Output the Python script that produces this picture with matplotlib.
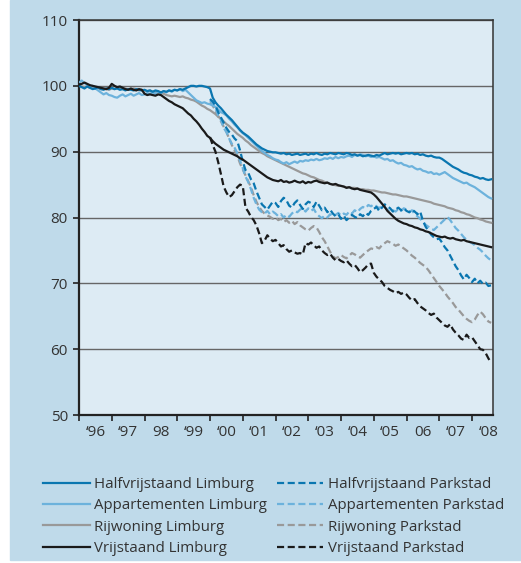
import numpy as np
import matplotlib
matplotlib.use("Agg")
import matplotlib.pyplot as plt
from matplotlib.patches import Rectangle

plt.rcParams['font.family'] = ['Open Sans', 'DejaVu Sans']

# ── data: monthly index (Jan 1996 = 100) ─────────────────────────────────────
START_LIMBURG = 1996.0      # Jan 1996 .. Aug 2008
START_PARKSTAD = 2000.0     # Jan 2000 .. Aug 2008

halfvrijstaand_limburg = [
    100.0, 99.8, 99.6, 99.9, 99.7, 99.5, 99.6, 99.8, 99.5, 99.4, 99.6, 99.5,
    99.7, 99.5, 99.6, 99.4, 99.5, 99.3, 99.5, 99.4, 99.3, 99.5, 99.4, 99.3,
    99.4, 99.2, 99.3, 99.1, 99.3, 99.2, 99.0, 99.2, 99.1, 99.3, 99.2, 99.4,
    99.3, 99.5, 99.4, 99.6, 99.8, 100.0, 100.0, 99.9, 100.0, 100.0, 99.9, 99.8,
    99.6, 98.2, 97.5, 97.0, 96.6, 96.1, 95.6, 95.2, 94.8, 94.3, 93.8, 93.3,
    92.9, 92.6, 92.3, 91.9, 91.5, 91.1, 90.8, 90.5, 90.3, 90.1, 90.0, 89.9,
    89.9, 89.8, 89.7, 89.8, 89.6, 89.7, 89.5, 89.6, 89.7, 89.5, 89.6, 89.7,
    89.5, 89.7, 89.6, 89.8, 89.6, 89.5, 89.7, 89.6, 89.8, 89.7, 89.6, 89.8,
    89.7, 89.6, 89.8, 89.7, 89.5, 89.6, 89.4, 89.5, 89.3, 89.4, 89.5, 89.4,
    89.3, 89.5, 89.4, 89.6, 89.8, 89.6, 89.7, 89.8, 89.7, 89.8, 89.6, 89.7,
    89.8, 89.7, 89.8, 89.6, 89.7, 89.5, 89.6, 89.4, 89.3, 89.4, 89.2, 89.1,
    89.1, 88.9, 88.6, 88.3, 88.0, 87.7, 87.5, 87.3, 87.0, 86.8, 86.7, 86.5,
    86.4, 86.2, 86.1, 85.9, 86.0, 85.8, 85.7, 85.8,
]
appartementen_limburg = [
    100.5, 100.8, 100.4, 100.2, 99.8, 100.0, 99.6, 99.3, 99.0, 98.7, 98.9, 98.6,
    98.5, 98.3, 98.2, 98.5, 98.7, 98.4, 98.6, 98.8, 98.5, 98.7, 98.9, 98.6,
    98.7, 98.9, 98.8, 99.0, 98.8, 99.1, 98.9, 99.2, 99.0, 99.3, 99.1, 99.4,
    99.3, 99.5, 99.2, 99.4, 99.0, 98.6, 98.2, 97.8, 97.6, 97.4, 97.5, 97.3,
    97.2, 97.0, 96.8, 96.4, 96.0, 95.8, 95.5, 95.0, 94.6, 94.1, 93.7, 93.2,
    92.8, 92.5, 92.1, 91.7, 91.3, 90.9, 90.5, 90.1, 89.8, 89.5, 89.3, 89.0,
    88.8, 88.7, 88.4, 88.2, 88.4, 88.1, 88.3, 88.5, 88.3, 88.6, 88.5, 88.7,
    88.6, 88.8, 88.7, 88.9, 88.7, 88.8, 89.0, 88.9, 89.1, 88.9, 89.2, 89.0,
    89.2, 89.1, 89.3, 89.4, 89.2, 89.5, 89.4, 89.6, 89.5, 89.3, 89.4, 89.2,
    89.3, 89.1, 89.2, 89.0, 88.8, 88.9, 88.6, 88.7, 88.4, 88.2, 88.3, 88.0,
    87.9, 87.7, 87.8, 87.5, 87.3, 87.4, 87.1, 87.0, 86.8, 86.9, 86.6, 86.7,
    86.5, 86.7, 86.9, 86.6, 86.3, 86.0, 85.8, 85.6, 85.4, 85.2, 85.3, 85.0,
    84.8, 84.6, 84.3, 84.0, 83.7, 83.4, 83.1, 82.9,
]
rijwoning_limburg = [
    100.0, 99.9, 99.8, 99.9, 99.7, 99.8, 99.6, 99.7, 99.5, 99.6, 99.5, 99.4,
    99.6, 99.5, 99.7, 99.6, 99.5, 99.6, 99.4, 99.5, 99.6, 99.5, 99.3, 99.4,
    99.3, 99.2, 99.3, 99.1, 99.0, 99.1, 98.9, 98.8, 98.6, 98.5, 98.4, 98.5,
    98.4, 98.3, 98.4, 98.2, 98.1, 97.9, 97.8, 97.6, 97.3, 97.0, 96.8, 96.5,
    96.3, 96.0, 95.7, 95.3, 95.0, 94.6, 94.2, 93.9, 93.5, 93.1, 92.7, 92.4,
    92.1, 91.7, 91.4, 91.0, 90.7, 90.4, 90.1, 89.8, 89.6, 89.3, 89.1, 88.9,
    88.7, 88.5, 88.3, 88.1, 87.9, 87.7, 87.5, 87.3, 87.1, 86.9, 86.7, 86.6,
    86.4, 86.2, 86.1, 85.9, 85.7, 85.6, 85.4, 85.3, 85.1, 85.0, 84.9, 84.8,
    84.8, 84.7, 84.6, 84.6, 84.5, 84.5, 84.4, 84.3, 84.3, 84.2, 84.2, 84.1,
    84.1, 84.0, 83.9, 83.8, 83.8, 83.7, 83.6, 83.5, 83.5, 83.4, 83.3, 83.2,
    83.2, 83.1, 83.0, 82.9, 82.8, 82.7, 82.6, 82.5, 82.4, 82.3, 82.1, 82.0,
    81.9, 81.8, 81.7, 81.5, 81.4, 81.3, 81.1, 81.0, 80.8, 80.7, 80.5, 80.4,
    80.2, 80.0, 79.9, 79.7, 79.6, 79.4, 79.3, 79.2,
]
vrijstaand_limburg = [
    100.2, 100.3, 100.5, 100.3, 100.1, 100.0, 99.9, 99.8, 99.7, 99.6, 99.5, 99.7,
    100.3, 100.0, 99.8, 99.9, 99.7, 99.5, 99.4, 99.6, 99.4, 99.3, 99.5, 99.4,
    98.8, 98.6, 98.7, 98.6, 98.5, 98.7, 98.6, 98.3, 98.0, 97.7, 97.5, 97.2,
    97.0, 96.8, 96.6, 96.2, 95.8, 95.5, 95.0, 94.6, 94.1, 93.5, 93.0, 92.4,
    92.1, 91.6, 91.2, 90.9, 90.6, 90.3, 90.1, 89.9, 89.7, 89.5, 89.3, 89.0,
    88.8, 88.5, 88.2, 87.9, 87.6, 87.3, 87.0, 86.7, 86.4, 86.1, 85.9, 85.7,
    85.6, 85.5, 85.7, 85.4, 85.5, 85.3, 85.4, 85.6, 85.4, 85.3, 85.5, 85.2,
    85.4, 85.3, 85.5, 85.6, 85.4, 85.3, 85.2, 85.3, 85.1, 85.0, 85.1, 84.9,
    84.8, 84.7, 84.5, 84.6, 84.4, 84.3, 84.4, 84.2, 84.1, 84.0, 83.9, 83.8,
    83.5, 83.1, 82.6, 82.1, 81.6, 81.0, 80.6, 80.2, 79.8, 79.5, 79.3, 79.1,
    79.0, 78.8, 78.7, 78.5, 78.4, 78.2, 78.1, 77.9, 77.8, 77.6, 77.4, 77.2,
    77.1, 77.0, 77.1, 76.9, 76.8, 76.9, 76.7, 76.6, 76.5, 76.6, 76.4, 76.3,
    76.2, 76.1, 76.0, 75.9, 75.8, 75.7, 75.6, 75.5,
]

halfvrijstaand_parkstad = [
    98.0, 97.6, 97.0, 96.0, 95.2, 94.4, 93.6, 93.0, 92.6, 92.0, 91.6, 90.2,
    88.5, 87.2, 86.8, 85.8, 85.2, 84.0, 83.0, 82.0, 81.6, 81.2, 81.8, 82.4,
    82.2, 81.6, 82.5, 83.0, 82.6, 81.8, 81.5, 82.2, 82.6, 81.9, 81.3, 82.0,
    82.4, 82.2, 81.6, 82.4, 81.8, 81.1, 81.5, 80.8, 81.2, 80.6, 80.2, 80.5,
    79.8, 80.3, 79.6, 80.0, 80.4, 80.1, 79.9, 80.5, 80.2, 80.7, 80.4, 81.0,
    81.3, 81.6, 81.0, 81.5, 82.0, 81.7, 81.4, 80.9, 81.2, 81.5, 81.1, 81.4,
    81.0, 80.8, 81.2, 80.9, 80.5, 80.9, 79.5, 78.6, 78.0, 77.4, 77.0, 76.7,
    76.8, 76.2, 75.5, 75.0, 74.2, 73.4, 72.6, 72.0, 71.2, 70.6, 71.3, 70.8,
    70.2, 70.7, 70.0, 70.4, 69.9, 70.1, 69.6, 69.7,
]
appartementen_parkstad = [
    97.8, 97.3, 96.6, 95.5, 94.8, 93.6, 93.0, 92.0, 91.2, 90.6, 89.8, 88.6,
    87.5, 86.2, 85.4, 84.3, 83.0, 82.0, 81.2, 80.8, 80.6, 81.0, 80.5, 80.9,
    80.6, 80.2, 80.5, 80.0, 80.4, 80.1, 80.6, 81.0, 80.8, 81.2, 81.4, 80.9,
    81.4, 81.0, 81.3, 80.6, 80.2, 79.9, 80.3, 80.0, 80.5, 80.2, 80.4, 80.7,
    80.3, 80.6, 80.4, 80.9, 80.6, 81.1, 80.8, 81.3, 81.6, 81.4, 81.9, 81.7,
    82.0, 81.7, 81.4, 81.8, 81.6, 81.2, 80.8, 81.1, 80.9, 81.3, 81.0, 81.4,
    81.2, 80.8, 81.1, 80.5, 80.2, 79.8, 79.4, 78.9, 78.6, 78.3, 78.1, 78.5,
    78.9, 79.3, 79.7, 80.1, 79.6, 79.0, 78.4, 78.0, 77.5, 77.0, 76.6, 76.3,
    76.1, 75.8, 75.4, 75.1, 74.7, 74.2, 73.8, 73.5,
]
rijwoning_parkstad = [
    97.5, 97.0, 96.2, 95.4, 94.6, 93.8, 93.0, 92.0, 91.0, 90.2, 89.4, 88.2,
    87.3, 86.4, 85.5, 84.6, 83.4, 82.4, 81.6, 81.0, 80.6, 80.3, 80.1, 79.8,
    80.0, 79.6, 79.8, 79.3, 79.6, 79.2, 79.5, 79.0, 79.3, 78.8, 78.5, 78.2,
    78.0, 78.4, 78.7, 78.5, 77.8, 77.0, 76.4, 75.6, 74.8, 74.1, 73.8, 74.0,
    74.3, 74.0, 73.8, 74.2, 74.6, 74.4, 74.1, 73.9, 74.3, 74.7, 75.0, 75.3,
    75.2, 75.5, 75.3, 75.8, 76.1, 76.4, 76.2, 76.0, 75.7, 75.9, 75.6, 75.3,
    75.0, 74.6, 74.2, 73.9, 73.5, 73.1, 72.8, 72.5, 72.0, 71.4, 70.8, 70.2,
    69.6, 69.1, 68.6, 68.0, 67.5, 67.0, 66.4, 66.0, 65.5, 65.0, 64.6, 64.3,
    64.1, 64.5, 65.2, 65.7, 65.3, 64.7, 64.2, 64.0,
]
vrijstaand_parkstad = [
    92.2, 91.0, 90.0, 88.4, 86.6, 84.7, 83.8, 83.1, 83.4, 84.0, 84.6, 85.0,
    84.8, 81.5, 80.9, 80.1, 79.6, 78.8, 77.6, 76.1, 76.5, 77.3, 76.8, 76.4,
    76.6, 76.1, 75.6, 75.8, 75.2, 74.8, 75.0, 74.7, 74.5, 74.6, 74.4, 76.1,
    75.9, 76.2, 75.8, 75.4, 75.6, 75.0, 74.6, 74.3, 74.5, 73.9, 73.5, 73.7,
    73.4, 73.2, 73.5, 73.0, 72.6, 72.8, 72.3, 71.7, 72.0, 72.4, 72.9, 73.0,
    71.6, 71.0, 70.6, 70.2, 69.6, 69.3, 69.0, 68.8, 68.5, 68.7, 68.4, 68.6,
    68.3, 67.8, 67.4, 67.6, 67.0, 66.5, 66.2, 65.9, 65.5, 65.2, 65.4, 64.8,
    64.4, 64.0, 63.6, 63.4, 63.8, 63.0, 62.5, 62.1, 61.6, 61.4, 62.2, 61.7,
    61.8, 61.2, 60.6, 60.0, 59.9, 59.4, 58.6, 57.9,
]

YEAR_LABELS = ["\u201896", "\u201897", "98", "\u201899", "\u201800", "\u201801",
               "\u201802", "\u201803", "\u201804", "\u201805", "06", "\u201807",
               "\u201808"]

# ── styling ──────────────────────────────────────────────────────────────────
BG_OUT = "#bfdaea"
BG_IN = "#ddebf4"
TXT = "#333333"
C_HALF = "#0a76b0"
C_APP = "#6cb2dc"
C_RIJ = "#999999"
C_VRIJ = "#1a1a1a"

fig = plt.figure(figsize=(5.21, 5.63), dpi=100)
fig.patch.set_facecolor("white")
fig.patches.append(Rectangle((10 / 521, 3 / 563), 1 - 10 / 521, 1 - 3 / 563,
                             transform=fig.transFigure, color=BG_OUT, zorder=-10))

ax = fig.add_axes([79 / 521, 1 - 415 / 563, (493 - 79) / 521, (415 - 20) / 563])
ax.set_facecolor(BG_IN)

t_lim = START_LIMBURG + np.arange(len(halfvrijstaand_limburg)) / 12
t_par = START_PARKSTAD + np.arange(len(halfvrijstaand_parkstad)) / 12

lw = 1.6
dash = (3.2, 1.6)
series = [
    (t_lim, halfvrijstaand_limburg, C_HALF, "-", "Halfvrijstaand Limburg"),
    (t_lim, appartementen_limburg, C_APP, "-", "Appartementen Limburg"),
    (t_lim, rijwoning_limburg, C_RIJ, "-", "Rijwoning Limburg"),
    (t_lim, vrijstaand_limburg, C_VRIJ, "-", "Vrijstaand Limburg"),
    (t_par, halfvrijstaand_parkstad, C_HALF, "--", "Halfvrijstaand Parkstad"),
    (t_par, appartementen_parkstad, C_APP, "--", "Appartementen Parkstad"),
    (t_par, rijwoning_parkstad, C_RIJ, "--", "Rijwoning Parkstad"),
    (t_par, vrijstaand_parkstad, C_VRIJ, "--", "Vrijstaand Parkstad"),
]
draw_order = [2, 6, 1, 5, 0, 4, 3, 7]
handles = [None] * len(series)
for i in draw_order:
    t, v, c, ls, lab = series[i]
    if ls == "--":
        h, = ax.plot(t, v, color=c, lw=lw, dashes=dash, label=lab, zorder=3)
    else:
        h, = ax.plot(t, v, color=c, lw=lw, label=lab, zorder=3)
    handles[i] = h

ax.set_xlim(1996, 2008.64)
ax.set_ylim(50, 110)
ax.set_yticks(np.arange(50, 111, 10))
ax.grid(axis="y", color="#666666", lw=1.0, zorder=1)
ax.set_axisbelow(True)

ax.set_xticks(np.arange(1996, 2009))
ax.set_xticklabels([])
ax.set_xticks(np.arange(1996, 2009) + 0.5, minor=True)
ax.set_xticklabels(YEAR_LABELS, minor=True)
ax.tick_params(axis="x", which="major", length=4, width=1.2, color="#222222")
ax.tick_params(axis="x", which="minor", length=0, pad=7, labelsize=11, labelcolor=TXT)
ax.tick_params(axis="y", length=4, width=1.2, color="#222222", pad=4,
               labelsize=11, labelcolor=TXT)

for s in ["left", "bottom"]:
    ax.spines[s].set_linewidth(1.6)
    ax.spines[s].set_color("#222222")
for s in ["top", "right"]:
    ax.spines[s].set_linewidth(1.1)
    ax.spines[s].set_color("#333333")

leg = fig.legend(handles=handles, loc="upper left", bbox_to_anchor=(43 / 521, 1 - 477 / 563),
                 ncol=2, frameon=False, fontsize=10.8, handlelength=3.1,
                 handletextpad=0.33, columnspacing=0.62, labelspacing=0.42,
                 borderaxespad=0, borderpad=0)
for txt in leg.get_texts():
    txt.set_color(TXT)

fig.savefig("out.png", dpi=100, facecolor=fig.get_facecolor())
